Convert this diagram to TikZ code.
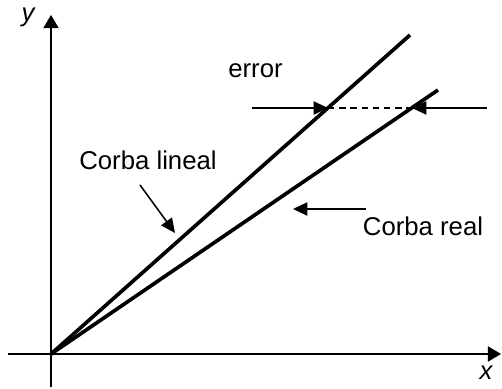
\documentclass[tikz,border=0pt]{standalone}
\usepackage{fontspec}
\setmainfont{Liberation Sans}
\usetikzlibrary{arrows.meta}

\begin{document}
\begin{tikzpicture}[x=.025cm,y=.025cm,
 ax/.style={-{Triangle[length=.33cm,width=.38cm]},line width=1.3pt},
 crv/.style={line width=2.6pt},
 a/.style={-{Triangle[length=.36cm,width=.33cm]},line width=1.1pt},
 l/.style={font=\fontsize{18.3}{20}\selectfont,anchor=base,inner sep=0pt}]
 \useasboundingbox (0,0) rectangle (502,389);
 \coordinate (o) at (51,35);
 \coordinate (xs) at (8,35); \coordinate (xe) at (501,35);
 \coordinate (ys) at (51,2); \coordinate (ye) at (51,374);
 \coordinate (lin) at (410,354);
 \coordinate (real) at (438,299);
 \coordinate (el) at (328,281); \coordinate (er) at (412,281);
 \coordinate (els) at (252,281); \coordinate (ers) at (487,281);
 \coordinate (lins) at (140,204); \coordinate (lint) at (175,156);
 \coordinate (reals) at (366,180); \coordinate (realt) at (293,180);
 \draw[ax] (xs)--(xe);
 \draw[ax] (ys)--(ye);
 \node[l] (ylab) at (28,367) {\itshape y};
 \node[l] (xlab) at (486,9) {\itshape x};
 \draw[crv] (o)--(lin);
 \draw[crv] (o)--(real);
 \draw[line width=1pt,dash pattern=on .16cm off .12cm] (el)--(er);
 \draw[a] (els)--(el);
 \draw[a] (ers)--(er);
 \node[l] (err) at (255.5,311) {error};
 \node[l] (clin) at (148,219) {Corba lineal};
 \draw[a] (lins)--(lint);
 \node[l] (creal) at (423,153) {Corba real};
 \draw[a] (reals)--(realt);
\end{tikzpicture}
\end{document}
